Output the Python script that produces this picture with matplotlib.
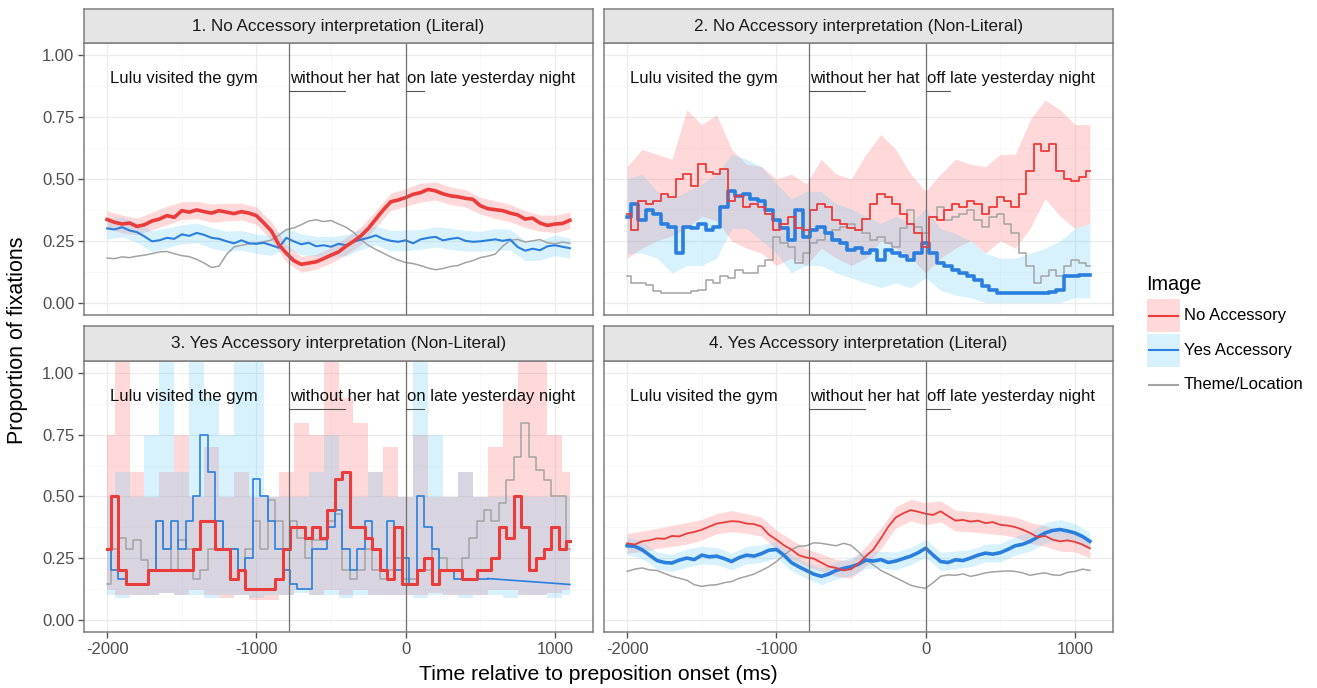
import numpy as np
import matplotlib.pyplot as plt

plt.rcParams['font.family'] = ['Liberation Sans', 'DejaVu Sans']

# time axis (ms relative to preposition onset)
t = np.arange(-2000, 1101, 50)
tb = np.arange(-2000, 1101, 100)   # ribbons are read every 100 ms

titles = ['1. No Accessory interpretation (Literal)',
          '2. No Accessory interpretation (Non-Literal)',
          '3. Yes Accessory interpretation (Non-Literal)',
          '4. Yes Accessory interpretation (Literal)']
endings = ['on', 'off', 'on', 'off']
labels = ['No Accessory', 'Yes Accessory', 'Theme/Location']

# ---- panel 1
red1 = [.336, .325, .318, .322, .308, .315, .330, .338, .352, .345,
        .372, .366, .375, .368, .362, .372, .366, .360, .368, .362,
        .352, .322, .290, .235, .200, .170, .155, .160, .165, .178,
        .192, .205, .228, .248, .270, .300, .338, .375, .408, .415,
        .425, .438, .445, .458, .452, .440, .432, .428, .422, .418,
        .392, .380, .376, .372, .362, .355, .338, .342, .322, .312,
        .318, .320, .333]
blue1 = [.300, .296, .305, .292, .285, .268, .248, .252, .262, .258,
         .276, .270, .282, .274, .262, .258, .248, .240, .252, .240,
         .238, .242, .232, .222, .262, .248, .236, .242, .228, .232,
         .226, .238, .232, .246, .255, .262, .272, .258, .250, .246,
         .252, .240, .256, .262, .266, .252, .258, .262, .250, .246,
         .248, .252, .256, .250, .255, .225, .210, .218, .212, .228,
         .232, .226, .220]
grey1 = [.180, .178, .185, .182, .188, .192, .198, .205, .207, .198,
         .190, .186, .175, .160, .142, .148, .195, .225, .232, .238,
         .240, .246, .253, .272, .295, .302, .315, .330, .335, .328,
         .332, .318, .305, .285, .255, .232, .215, .200, .185, .172,
         .162, .158, .150, .140, .133, .138, .146, .150, .162, .170,
         .182, .188, .196, .228, .252, .256, .245, .250, .255, .242,
         .238, .245, .240]
red1_se = [.035, .036, .034, .035, .038, .036, .035, .037, .036, .034,
           .035, .038, .036, .032, .030, .032, .035, .036, .034, .035,
           .036, .038, .037, .036, .035, .034, .036, .035, .034, .033,
           .035, .034]
blue1_se = [.042, .040, .041, .043, .040, .038, .040, .042, .041, .040,
            .039, .041, .040, .042, .040, .041, .043, .040, .039, .041,
            .042, .040, .041, .043, .042, .040, .044, .042, .041, .040,
            .042, .041]

# ---- panel 2
red2 = [.360, .293, .413, .400, .413, .440, .427, .500, .520, .470,
        .560, .530, .520, .540, .413, .430, .387, .400, .387, .360,
        .293, .320, .347, .300, .293, .373, .400, .387, .333, .320,
        .300, .293, .340, .400, .440, .427, .400, .360, .320, .280,
        .227, .347, .333, .373, .400, .387, .413, .400, .360, .387,
        .427, .413, .387, .440, .533, .640, .613, .640, .533, .500,
        .493, .507, .533]
blue2 = [.347, .400, .333, .373, .360, .320, .307, .200, .307, .300,
         .320, .293, .307, .387, .453, .430, .440, .420, .413, .373,
         .333, .300, .253, .373, .267, .293, .307, .280, .253, .240,
         .213, .220, .200, .213, .173, .213, .200, .187, .173, .200,
         .240, .200, .160, .147, .133, .120, .107, .093, .067, .053,
         .040, .040, .040, .040, .040, .040, .040, .045, .053, .107,
         .107, .113, .113]
grey2 = [.107, .080, .080, .073, .047, .040, .040, .040, .040, .047,
         .053, .093, .080, .107, .100, .133, .120, .120, .147, .173,
         .267, .240, .227, .160, .200, .240, .253, .280, .293, .307,
         .320, .293, .280, .253, .267, .240, .227, .300, .373, .307,
         .280, .347, .387, .333, .347, .360, .373, .333, .307, .347,
         .360, .320, .280, .200, .147, .080, .107, .133, .107, .147,
         .173, .160, .147]
red2_hi = [.55, .62, .60, .58, .78, .72, .76, .62, .56, .55,
           .50, .52, .48, .58, .52, .50, .60, .68, .62, .52,
           .45, .52, .58, .56, .55, .60, .60, .74, .82, .78,
           .72, .72]
red2_lo = [.18, .22, .25, .27, .30, .35, .33, .25, .22, .20,
           .15, .18, .15, .22, .18, .15, .18, .25, .22, .18,
           .12, .18, .22, .25, .20, .25, .22, .30, .42, .35,
           .30, .32]
blue2_hi = [.50, .52, .45, .42, .45, .48, .52, .60, .58, .55,
            .48, .42, .45, .45, .40, .38, .35, .32, .35, .32,
            .38, .30, .28, .25, .20, .18, .18, .20, .22, .25,
            .30, .32]
blue2_lo = [.20, .20, .18, .12, .15, .15, .18, .30, .30, .25,
            .20, .12, .15, .15, .12, .10, .08, .06, .08, .06,
            .10, .05, .03, .02, .00, .00, .00, .00, .00, .00,
            .02, .02]

# ---- panel 3
red3 = [.286, .500, .200, .143, .143, .143, .200, .200, .200, .200,
        .200, .200, .286, .400, .400, .286, .286, .167, .200, .125,
        .125, .125, .125, .167, .286, .375, .375, .333, .375, .333,
        .444, .571, .600, .375, .375, .333, .286, .200, .167, .375,
        .143, .143, .200, .250, .143, .200, .200, .200, .167, .167,
        .200, .200, .250, .375, .333, .500, .375, .200, .250, .286,
        .375, .286, .320]
# blue has no samples between 550 and 1100 ms
t_blue3 = np.append(t[:52], 1100)
blue3 = [.286, .200, .167, .143, .143, .143, .200, .400, .286, .400,
         .286, .400, .500, .750, .600, .400, .286, .286, .200, .250,
         .571, .500, .400, .286, .200, .143, .125, .125, .286, .286,
         .375, .444, .286, .200, .286, .400, .286, .200, .400, .200,
         .250, .143, .500, .375, .286, .200, .200, .167, .167, .167,
         .167, .167, .143]
grey3 = [.143, .286, .333, .286, .324, .243, .200, .400, .286, .200,
         .324, .286, .167, .200, .286, .400, .286, .286, .200, .286,
         .400, .286, .486, .400, .286, .400, .333, .250, .324, .324,
         .400, .430, .200, .167, .200, .286, .200, .167, .200, .250,
         .167, .167, .200, .200, .286, .250, .200, .200, .250, .333,
         .400, .446, .400, .473, .568, .662, .800, .662, .608, .568,
         .500, .500, .286]
red3_hi = [.75, 1.05, .60, .50, .60, .75, .50, .70, .50, .60,
           .50, .50, .60, .80, .75, 1.05, .90, .80, .60, .70,
           .50, .75, .50, .50, .60, .50, .70, .90, 1.05, 1.05,
           .75, .60]
red3_lo = [.12, .10, .10, .10, .11, .10, .12, .10, .09, .10,
           .08, .08, .10, .12, .10, .12, .10, .12, .10, .10,
           .10, .10, .11, .10, .10, .10, .12, .12, .10, .10,
           .11, .12]
blue3_hi = [.50, .60, .50, .75, 1.05, .60, 1.05, .90, .75, 1.05,
            1.05, .50, .50, .50, .60, .75, .60, .50, .60, .50,
            .50, 1.05, .75, .50, .60, .50, .50, .50, .50, .50,
            .50, .50]
blue3_lo = [.10, .09, .10, .10, .11, .10, .10, .09, .10, .10,
            .09, .10, .10, .11, .10, .10, .09, .10, .10, .10,
            .10, .09, .10, .10, .09, .10, .10, .09, .10, .10,
            .09, .10]

# ---- panel 4
red4 = [.310, .305, .318, .322, .330, .328, .340, .338, .350, .356,
        .365, .378, .390, .395, .400, .398, .390, .388, .378, .345,
        .325, .302, .285, .262, .252, .248, .232, .216, .210, .200,
        .205, .228, .258, .285, .330, .378, .415, .432, .445, .438,
        .430, .425, .440, .420, .402, .405, .398, .402, .392, .396,
        .385, .382, .376, .365, .352, .335, .340, .325, .318, .322,
        .316, .305, .290]
blue4 = [.300, .298, .284, .262, .240, .232, .230, .242, .250, .244,
         .262, .255, .258, .248, .236, .252, .262, .258, .268, .282,
         .285, .262, .232, .215, .200, .185, .176, .185, .200, .208,
         .215, .225, .242, .238, .244, .232, .238, .248, .258, .272,
         .290, .262, .236, .232, .243, .240, .250, .262, .270, .266,
         .272, .285, .300, .306, .318, .335, .352, .362, .366, .360,
         .352, .338, .318]
grey4 = [.196, .205, .210, .202, .200, .188, .176, .168, .160, .142,
         .135, .140, .142, .150, .155, .168, .176, .185, .200, .215,
         .236, .262, .284, .298, .300, .312, .310, .305, .300, .310,
         .302, .275, .243, .222, .200, .185, .170, .155, .140, .132,
         .128, .150, .176, .182, .180, .186, .176, .182, .190, .194,
         .196, .198, .196, .190, .180, .186, .190, .182, .180, .192,
         .196, .205, .200]
red4_se = [.040, .042, .041, .043, .044, .042, .041, .043, .040, .039,
           .038, .040, .036, .035, .034, .036, .040, .042, .043, .044,
           .045, .043, .042, .041, .042, .040, .041, .043, .042, .040,
           .041, .040]
blue4_se = [.035, .036, .034, .035, .037, .036, .035, .034, .036, .035,
            .034, .033, .032, .034, .035, .036, .035, .034, .036, .035,
            .036, .037, .036, .035, .036, .037, .038, .040, .042, .040,
            .038, .036]

# ribbons as (lo, hi) per panel
def band(line, se):
    c = np.array(line)[::2]
    s = np.array(se)
    return c - s, c + s

red_bands = [band(red1, red1_se), (red2_lo, red2_hi), (red3_lo, red3_hi), band(red4, red4_se)]
blue_bands = [band(blue1, blue1_se), (blue2_lo, blue2_hi), (blue3_lo, blue3_hi), band(blue4, blue4_se)]
reds = [red1, red2, red3, red4]
blues = [blue1, blue2, blue3, blue4]
greys = [grey1, grey2, grey3, grey4]
blue_t = [t, t, t_blue3, t]

RED, BLUE, GREY = '#EC3B3B', '#2A7FDE', '#A3A3A3'
RED_F, BLUE_F = '#FF6464', '#5CCBFA'
FA = 0.24
lw_red = [2.6, 1.3, 2.2, 1.3]
lw_blue = [1.5, 2.6, 1.2, 2.6]
line_steps = [False, True, True, False]
band_steps = [None, None, 'mid', None]

W, H = 1317, 688
boxes = [(84, 43, 593, 315), (604, 43, 1113, 315), (84, 361, 593, 632), (604, 361, 1113, 632)]
strip_top = [9, 9, 326, 326]

def frac(x0, y0, x1, y1):
    return [x0 / W, 1 - y1 / H, (x1 - x0) / W, (y1 - y0) / H]

fig = plt.figure(figsize=(W / 100, H / 100), dpi=100)

for i in range(4):
    x0, y0, x1, y1 = boxes[i]
    ax = fig.add_axes(frac(x0, y0, x1, y1))
    ds = 'steps-mid' if line_steps[i] else 'default'

    lo, hi = red_bands[i]
    ax.fill_between(tb, lo, hi, color=RED_F, alpha=FA, lw=0, step=band_steps[i])
    lo, hi = blue_bands[i]
    ax.fill_between(tb, lo, hi, color=BLUE_F, alpha=FA, lw=0, step=band_steps[i])

    ax.plot(t, greys[i], color=GREY, lw=1.1, drawstyle=ds)
    if i == 2:
        # stepped part, then the straight join over the gap
        ax.plot(t_blue3[:-1], blue3[:-1], color=BLUE, lw=lw_blue[i], drawstyle=ds)
        ax.plot(t_blue3[-2:], blue3[-2:], color=BLUE, lw=lw_blue[i])
    else:
        ax.plot(blue_t[i], blues[i], color=BLUE, lw=lw_blue[i], drawstyle=ds)
    ax.plot(t, reds[i], color=RED, lw=lw_red[i], drawstyle=ds)

    for xv in (-780, 0):
        ax.axvline(xv, color='#707070', lw=0.9)

    # sentence regions
    ax.text(-1980, 0.905, 'Lulu visited the gym', fontsize=12, va='center', color='#111111')
    ax.text(-772, 0.905, 'without her hat', fontsize=12, va='center', color='#111111')
    ax.text(6, 0.905, endings[i] + ' late yesterday night', fontsize=12, va='center', color='#111111')
    ax.plot([-780, -405], [0.857, 0.857], color='#555555', lw=0.8)
    ax.plot([0, 120 if endings[i] == 'on' else 160], [0.857, 0.857], color='#555555', lw=0.8)

    ax.set_xlim(-2155, 1255)
    ax.set_ylim(-0.05, 1.05)
    ax.set_xticks([-2000, -1000, 0, 1000])
    ax.set_xticks([-1500, -500, 500], minor=True)
    ax.set_yticks([0, 0.25, 0.5, 0.75, 1.0])
    ax.set_yticks([0.125, 0.375, 0.625, 0.875], minor=True)
    ax.grid(which='major', color='#EBEBEB', lw=0.9)
    ax.grid(which='minor', color='#F5F5F5', lw=0.5)
    ax.set_axisbelow(True)
    for sp in ax.spines.values():
        sp.set_color('#7F7F7F')
        sp.set_linewidth(1.1)
    ax.tick_params(which='minor', length=0)
    ax.tick_params(which='major', length=4, width=1, color='#555555',
                   labelcolor='#4D4D4D', labelsize=12, pad=3)
    if i in (2, 3):
        ax.set_xticklabels(['-2000', '-1000', '0', '1000'])
    else:
        ax.tick_params(axis='x', length=0, labelbottom=False)
    if i in (0, 2):
        ax.set_yticklabels(['0.00', '0.25', '0.50', '0.75', '1.00'])
    else:
        ax.tick_params(axis='y', length=0, labelleft=False)

    # facet strip
    sax = fig.add_axes(frac(x0, strip_top[i], x1, y0))
    sax.set_facecolor('#E5E5E5')
    sax.set_xticks([])
    sax.set_yticks([])
    for sp in sax.spines.values():
        sp.set_color('#7F7F7F')
        sp.set_linewidth(1.1)
    sax.text(0.5, 0.5, titles[i], fontsize=12.3, ha='center', va='center',
             color='#1A1A1A', transform=sax.transAxes)

fig.text(18 / W, 1 - 340 / H, 'Proportion of fixations', rotation=90,
         fontsize=15.5, ha='center', va='center')
fig.text(598 / W, 1 - 675 / H, 'Time relative to preposition onset (ms)',
         fontsize=15.2, ha='center', va='center')

# legend, laid out in pixel units of its own small axes
lax = fig.add_axes(frac(1130, 265, 1317, 405))
lax.set_xlim(1130, 1317)
lax.set_ylim(405, 265)
lax.axis('off')
lax.text(1146, 285, 'Image', fontsize=14.3, va='center', ha='left')
key_fill = [(RED_F, FA), (BLUE_F, FA), None]
key_line = [RED, BLUE, GREY]
for k in range(3):
    yc = 315.5 + 34.5 * k
    if key_fill[k] is not None:
        lax.add_patch(plt.Rectangle((1147, yc - 16.5), 33, 33, fc=key_fill[k][0],
                                    alpha=key_fill[k][1], lw=0))
    lax.plot([1149, 1178], [yc, yc], color=key_line[k], lw=1.5)
    lax.text(1184, yc, labels[k], fontsize=12, va='center', ha='left')

plt.savefig('out.png', dpi=100)
